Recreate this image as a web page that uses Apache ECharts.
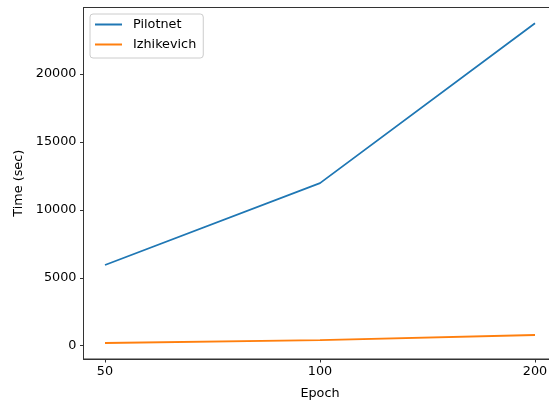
<!DOCTYPE html>
<html>
<head>
<meta charset="utf-8">
<script src="https://cdn.jsdelivr.net/npm/echarts@6/dist/echarts.min.js"></script>
<style>html,body{margin:0;padding:0;background:#fff;}#c{width:549px;height:403px;}</style>
</head>
<body>
<div id="c"></div>
<script>
const categories = ['50', '100', '200'];
const pilotnet = [5940, 11960, 23720];
const izhikevich = [200, 410, 790];
const yTicks = [0, 5000, 10000, 15000, 20000];
const seriesNames = ['Pilotnet', 'Izhikevich'];

const font = 'DejaVu Sans';
const fs = 12.8;
const chart = echarts.init(document.getElementById('c'), null, {renderer: 'canvas'});
const xIdx = categories.map((_, i) => i);
chart.setOption({
  animation: false,
  backgroundColor: '#fff',
  textStyle: {fontFamily: font},
  grid: {left: 83.5, top: 7.5, width: 473, height: 351.5, show: true, borderColor: '#333', borderWidth: 1, backgroundColor: 'transparent', outerBoundsMode: 'none', containLabel: false},
  legend: {
    orient: 'vertical', left: 90, top: 14, icon: 'rect', itemWidth: 27, itemHeight: 2, itemGap: 5,
    backgroundColor: 'rgba(255,255,255,0.8)', borderColor: '#ccc', borderWidth: 1, borderRadius: 3,
    padding: [3, 7, 6, 5],
    textStyle: {fontFamily: font, fontSize: fs, color: '#000', padding: [0, 0, 0, 6], lineHeight: 15},
    data: seriesNames
  },
  xAxis: {
    type: 'value', min: -0.1, max: 2.1,
    name: 'Epoch', nameLocation: 'middle', nameGap: 28,
    nameTextStyle: {fontFamily: font, fontSize: fs, color: '#000'},
    splitLine: {show: false},
    axisLine: {show: true, onZero: false, lineStyle: {color: '#333', width: 1}},
    axisTick: {show: true, customValues: xIdx, length: 3.5, lineStyle: {color: '#333'}},
    axisLabel: {customValues: xIdx, formatter: v => categories[Math.round(v)], fontFamily: font, fontSize: fs, color: '#000', margin: 6}
  },
  yAxis: {
    type: 'value', min: -975, max: 24875,
    name: 'Time (sec)', nameLocation: 'middle', nameGap: 57, nameRotate: 90,
    nameTextStyle: {fontFamily: font, fontSize: fs, color: '#000'},
    splitLine: {show: false},
    axisLine: {show: true, onZero: false, lineStyle: {color: '#333', width: 1}},
    axisTick: {show: true, customValues: yTicks, length: 3.5, lineStyle: {color: '#333'}},
    axisLabel: {customValues: yTicks, formatter: v => String(v), fontFamily: font, fontSize: fs, color: '#000', margin: 7}
  },
  series: [
    {name: seriesNames[0], type: 'line', data: xIdx.map(i => [i, pilotnet[i]]), showSymbol: false, symbol: 'none', color: '#1f77b4', lineStyle: {width: 1.8}},
    {name: seriesNames[1], type: 'line', data: xIdx.map(i => [i, izhikevich[i]]), showSymbol: false, symbol: 'none', color: '#ff7f0e', lineStyle: {width: 1.8}}
  ]
});
</script>
</body>
</html>
